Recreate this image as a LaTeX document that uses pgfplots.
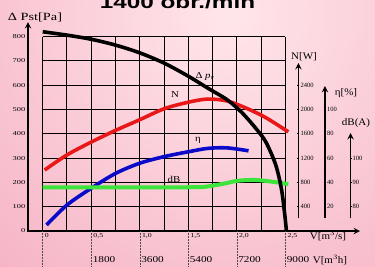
\documentclass[border=0pt]{standalone}
\usepackage{fontspec}
\setmainfont{Liberation Serif}
\newfontfamily\titlefont{Liberation Sans}
\usepackage{pgfplots}
\usepackage{pgfplotstable}
\pgfplotsset{compat=1.18}
\usetikzlibrary{arrows.meta}
\definecolor{bgin}{RGB}{255,230,234}
\definecolor{bgout}{RGB}{246,180,198}
\definecolor{cred}{RGB}{232,24,24}
\definecolor{cblue}{RGB}{10,10,200}
\definecolor{cgreen}{RGB}{60,228,60}
\newcommand{\fs}[1]{\fontsize{#1}{#1}\selectfont}

\pgfplotstableread{
v P
0 820
0.25 806
0.5 789
0.75 765
1.0 733
1.25 691
1.5 637
1.7 588
1.9 540
2.05 488
2.2 420
2.3 365
2.4 272
2.46 170
2.495 60
2.51 0
}\dptable

\pgfplotstableread{
v N
0.02 1004
0.25 1252
0.5 1464
0.75 1656
1.0 1832
1.25 2012
1.5 2120
1.7 2172
1.9 2140
2.1 2020
2.3 1864
2.53 1632
}\Npowtable

\pgfplotstableread{
v eta
0.04 5
0.25 21.4
0.5 35.2
0.75 47.4
1.0 55.8
1.25 61.2
1.5 65.2
1.7 68
1.9 68.4
2.12 66
}\efftable

\pgfplotstableread{
v dB
0 88
0.5 88
1.0 88
1.47 88
1.67 88.2
1.88 89.6
2.01 90.7
2.19 91
2.36 90.3
2.53 89.3
}\noisetable

\pgfplotsset{
 base/.style={scale only axis, anchor=south west, clip=false, xmin=-0.1514,
   axis line style={line width=1.8pt, -{Latex[length=7pt,width=5pt]}},
   tick style={line width=0.6pt, black}, major tick length=2pt, tick align=outside,
   /pgf/number format/assume math mode=true,
   /pgf/number format/1000 sep={},
   ticklabel style={font=\fs{5.5}, inner sep=1pt},
 },
 scale/.style={base, axis x line=none, axis y line=right,
   yticklabel style={anchor=west, font=\fs{6.5}, inner sep=1pt}},
}

\begin{document}
\begin{tikzpicture}
\path[use as bounding box] (0,0) rectangle (375pt,266pt);
\clip (0,0) rectangle (375pt,266pt);
\fill[bgout] (0,0) rectangle (375pt,266pt);
\shade[inner color=bgin, outer color=bgout] (230pt,250pt) circle (345pt);

\begin{axis}[base, at={(28pt,35pt)}, width=332pt, height=209pt,
  xmax=3.268, ymin=0, ymax=860,
  axis x line=bottom, axis y line=left,
  ytick={0,100,...,800},
  yticklabel style={font=\fs{6}, xscale=1.4, anchor=east},
  xtick={0,0.5,...,2.5}, xticklabels={0,{0,5},{1,0},{1,5},{2,0},{2,5}},
  x tick style={draw=none},
  xticklabel style={anchor=north west, font=\fs{6}, xscale=1.3, inner sep=1.5pt},
]
\pgfplotsinvokeforeach{0,0.25,0.5,0.75,1,1.25,1.5,1.75,2,2.25,2.5}{\draw[line width=1pt] (axis cs:#1,0) -- (axis cs:#1,800);}
\pgfplotsinvokeforeach{100,200,300,400,500,600,700,800}{\draw[line width=1pt] (axis cs:0,#1) -- (axis cs:2.5,#1);}
\pgfplotsinvokeforeach{0,0.5,1,1.5,2,2.5}{\draw[densely dotted, line width=0.5pt, black!70] (axis cs:#1,0) -- ([yshift=-36pt]axis cs:#1,0);}
\addplot[cred, line width=3.6pt, smooth] table[x=v, y expr=\thisrow{N}/4] {\Npowtable};
\addplot[cblue, line width=3.6pt, smooth] table[x=v, y expr=\thisrow{eta}*5] {\efftable};
\addplot[cgreen, line width=4pt, smooth] table[x=v, y expr=(\thisrow{dB}-70)*10] {\noisetable};
\addplot[black, line width=3.6pt, smooth] table[x=v, y=P] {\dptable};
\end{axis}

% N [W] scale
\begin{axis}[scale, at={(28pt,48pt)}, width=270.4pt, height=155pt,
  xmax=2.634, ymin=214, ymax=2765, ytick={400,800,...,2400}]
\end{axis}
% efficiency scale
\begin{axis}[scale, at={(28pt,48pt)}, width=296.9pt, height=132pt,
  xmax=2.907, ymin=10.7, ymax=119.3, ytick={20,40,...,100}]
\end{axis}
% dB(A) scale
\begin{axis}[scale, at={(28pt,48pt)}, width=322.5pt, height=85pt,
  xmax=3.170, ymin=75.35, ymax=110.33, ytick={80,90,100}]
\end{axis}

% m3/h labels
\foreach \x/\l in {90.7/1800,139.2/3600,187.7/5400,236.2/7200,284.7/9000}
  \node[anchor=west, font=\fs{9}, xscale=1.25, inner sep=1.5pt] at (\x pt,6pt) {\l};

\node[font=\fs{10}, xscale=1.1] at (330pt,6pt) {V[m$^3$h]};
\node[font=\fs{10}, xscale=1.1] at (328pt,30pt) {V[m$^3$/s]};
\node[font=\fs{10}, xscale=1.1] at (304pt,209pt) {N[W]};
\node[font=\fs{10}, xscale=1.1] at (346pt,173pt) {η[\%]};
\node[font=\fs{10}, xscale=1.1] at (356pt,143pt) {dB(A)};
\node[font=\fs{11}, xscale=1.3] at (35pt,249pt) {Δ Pst[Pa]};
\node[font=\titlefont\bfseries\fs{18}, xscale=1.35, anchor=base] at (177.5pt,257.7pt) {1400 obr./min};

\node[font=\fs{9}, xscale=1.2] at (175pt,171pt) {N};
\node[font=\fs{9}, xscale=1.2] at (205pt,190pt) {Δ \textit{p}\textsubscript{\textit{v}}};
\node[font=\fs{9}, xscale=1.2] at (198pt,126pt) {η};
\node[font=\fs{9}, xscale=1.2] at (174pt,87pt) {dB};
\end{tikzpicture}
\end{document}
